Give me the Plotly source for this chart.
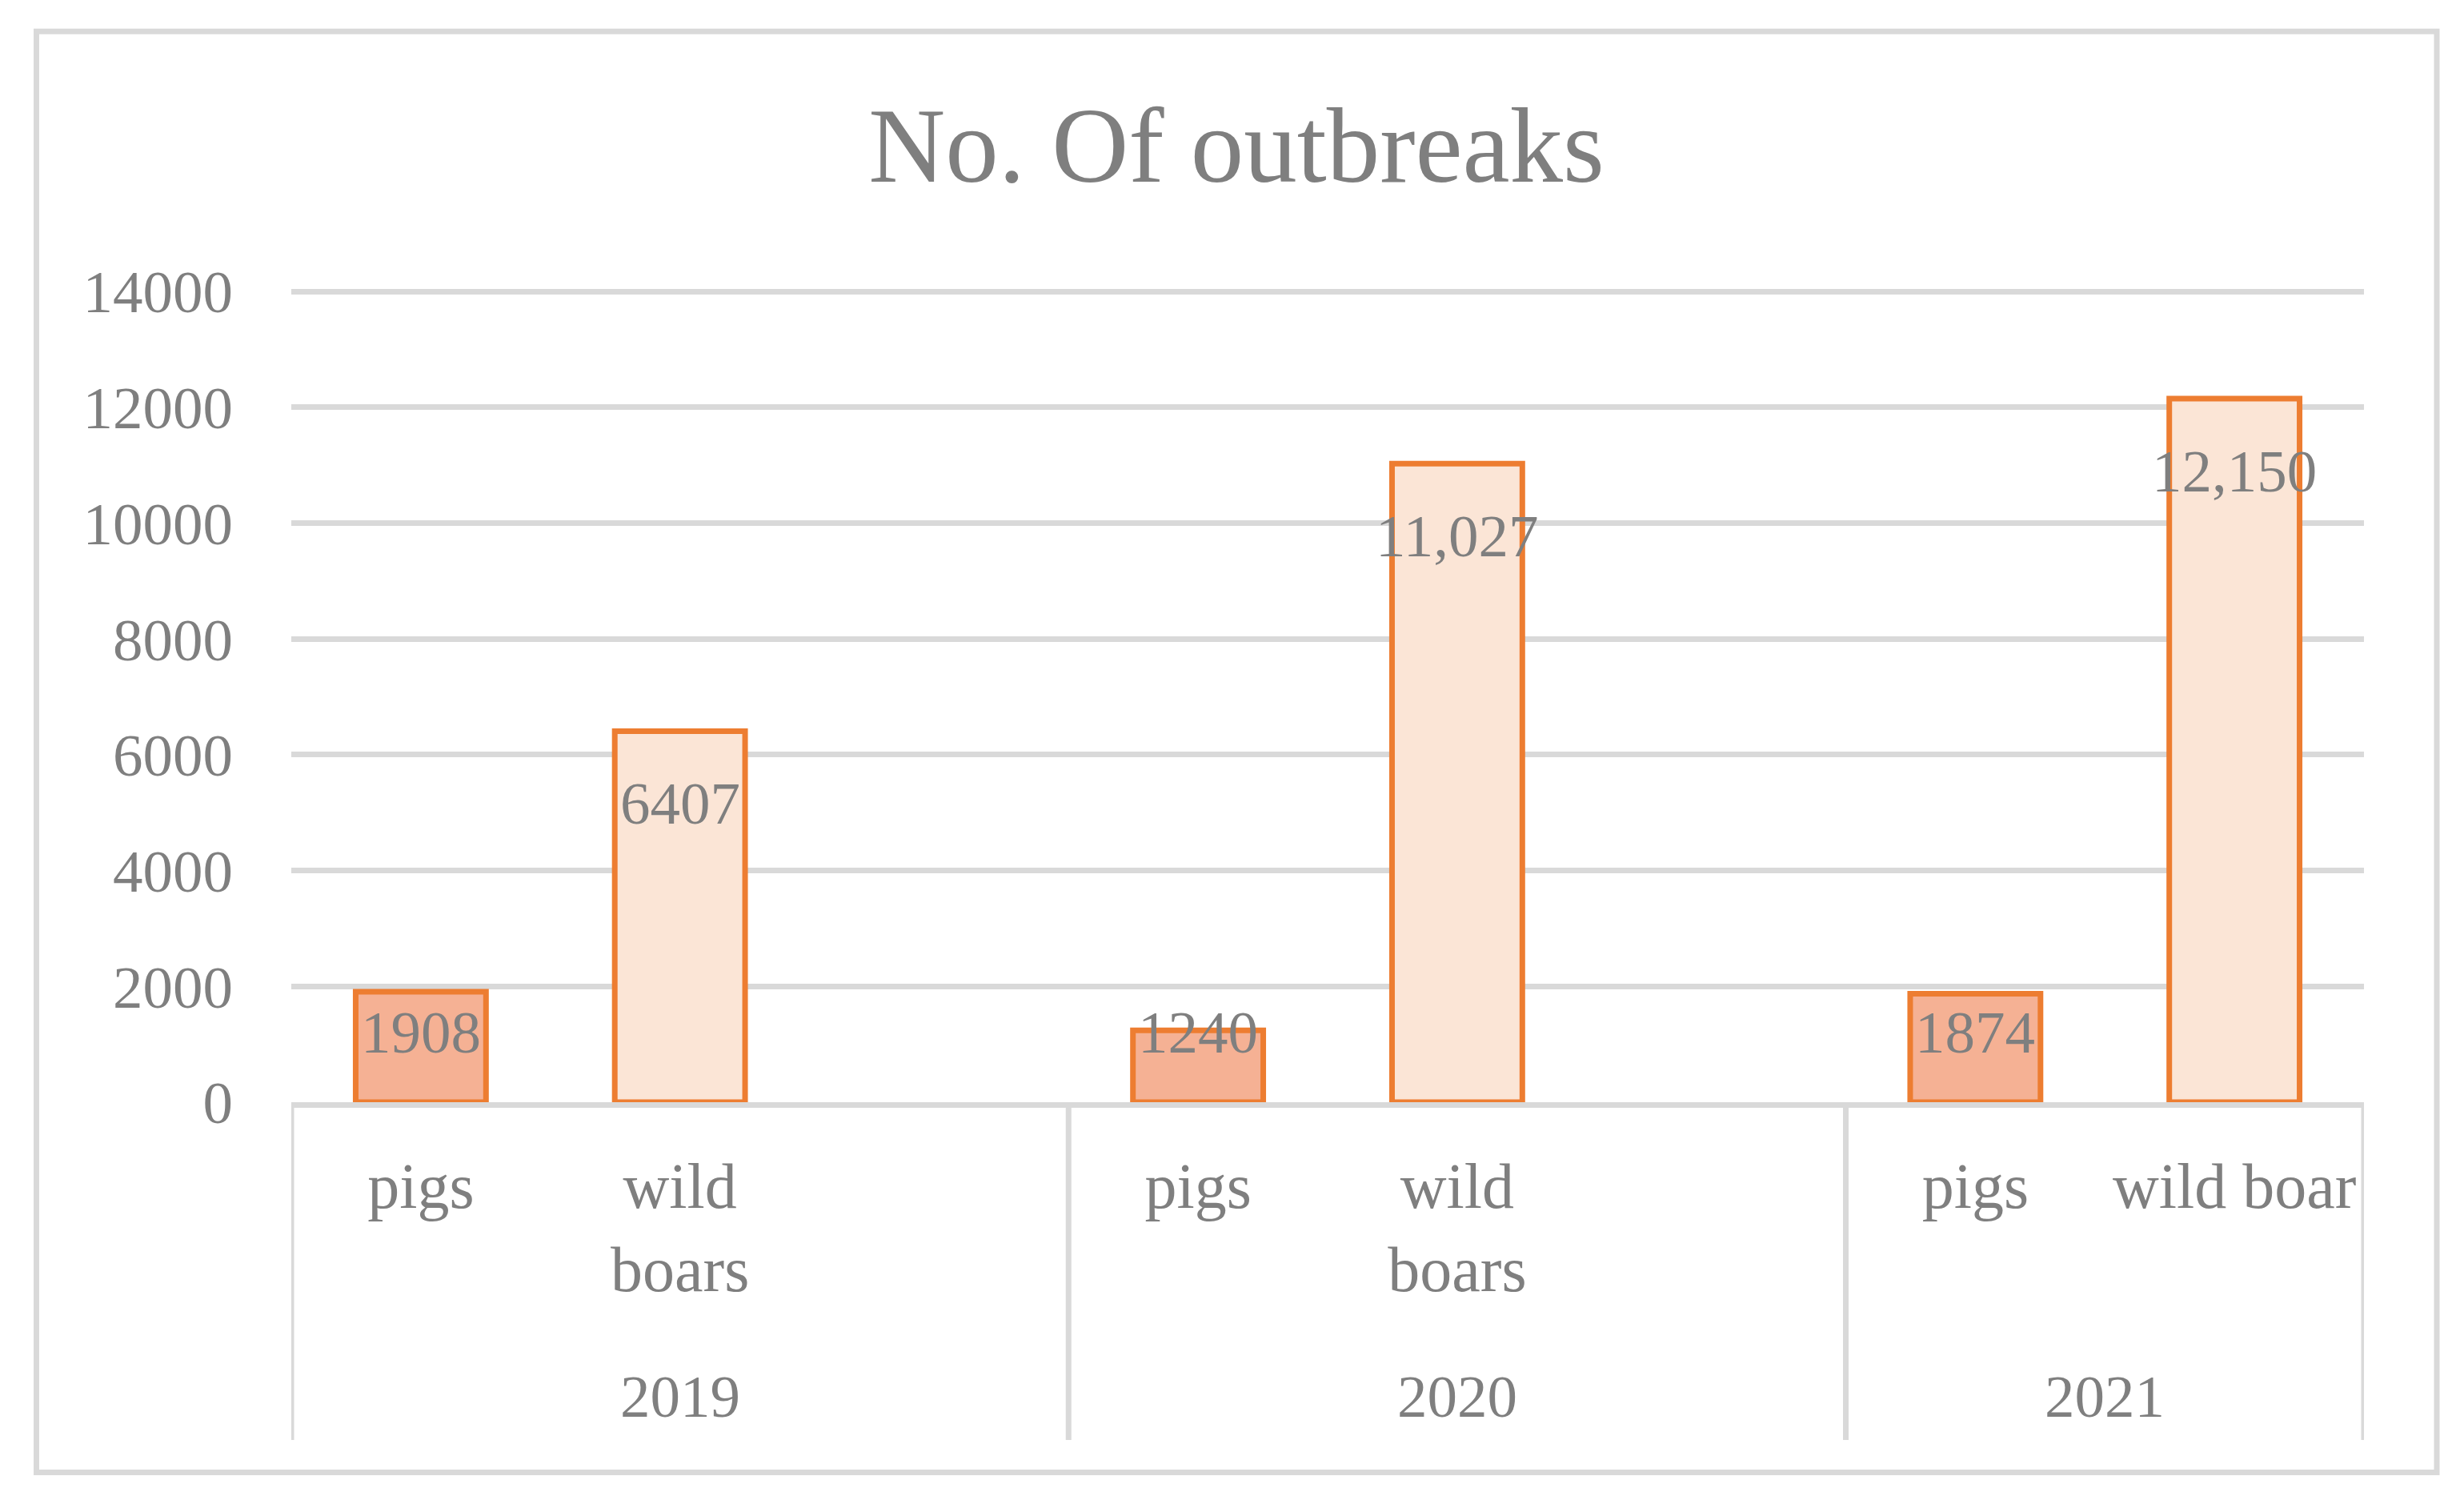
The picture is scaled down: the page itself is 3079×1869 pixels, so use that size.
import plotly.graph_objects as go

# ---------------- data ----------------
years = ["2019", "2020", "2021"]
slot_labels = [
    ["pigs", "wild<br>boars", ""],
    ["pigs", "wild<br>boars", ""],
    ["pigs", "wild boar"],
]
pigs = [1908, 1240, 1874]
wild_boars = [6407, 11027, 12150]
pigs_text = ["1908", "1240", "1874"]
wild_text = ["6407", "11,027", "12,150"]
y_ticks = [0, 2000, 4000, 6000, 8000, 10000, 12000, 14000]
y_ticktext = ["0", "2000", "4000", "6000", "8000", "10000", "12000", "14000"]

# ---------------- layout geometry ----------------
OFF = 8                 # default body margin of the page
W, H = 3079 - OFF, 1869 - OFF
L, R, B = 364 - OFF, 2954 - OFF, 1377 - OFF
T_GRID = 364.5 - OFF    # pixel of the 14000 gridline
YMAX = 14000
YTOP = 14100            # small headroom so the top gridline is drawn
pxu = (B - T_GRID) / YMAX
T = B - YTOP * pxu
FONT = "Liberation Serif"
GRAY = "#7F7F7F"
GRID = "#D9D9D9"
ORANGE = "#ED7D31"


def px_x(p):
    return (p - OFF - L) / (R - L)


def px_y(p):
    return (B - (p - OFF)) / (B - T)


# slot positions derived from group structure
starts = []
s = 0
for g in slot_labels:
    starts.append(s)
    s += len(g)
n_slots = s
pig_x = [st + 0 for st in starts]
wild_x = [st + 1 for st in starts]
tickvals = list(range(n_slots))
ticktext = [lab for g in slot_labels for lab in g]

fig = go.Figure()
fig.add_trace(go.Bar(
    x=pig_x, y=pigs, width=0.503, name="pigs",
    marker=dict(color="#F5B194", line=dict(color=ORANGE, width=7)),
))
fig.add_trace(go.Bar(
    x=wild_x, y=wild_boars, width=0.503, name="wild boars",
    marker=dict(color="#FBE5D6", line=dict(color=ORANGE, width=7)),
))

# data labels
anns = []
for xs, vals, texts in [(pig_x, pigs, pigs_text), (wild_x, wild_boars, wild_text)]:
    for x, v, t in zip(xs, vals, texts):
        top = B - v * pxu
        center = min(top + 90, B - 87)
        anns.append(dict(x=x, y=v, xref="x", yref="y", text=t, showarrow=False,
                         yanchor="middle", yshift=-(center - top),
                         font=dict(family=FONT, size=75, color=GRAY)))

# year labels
for g, st, yr in zip(slot_labels, starts, years):
    anns.append(dict(x=st + (len(g) - 1) / 2, y=px_y(1744), xref="x", yref="paper",
                     text=yr, showarrow=False, yanchor="middle",
                     font=dict(family=FONT, size=75, color=GRAY)))

# dividers of category axis
shapes = []
bounds = [st - 0.5 for st in starts] + [n_slots - 0.5]
for b in bounds:
    shapes.append(dict(type="line", xref="x", yref="paper", x0=b, x1=b,
                       y0=0, y1=px_y(1799), line=dict(color=GRID, width=7)))
# outer chart border
shapes.append(dict(type="rect", xref="paper", yref="paper",
                   x0=px_x(45.5), x1=px_x(3045), y0=px_y(39.5), y1=px_y(1839.5),
                   line=dict(color=GRID, width=7), layer="below"))

fig.update_layout(
    width=W, height=H,
    margin=dict(l=L, r=W - R, t=T, b=H - B, pad=0),
    paper_bgcolor="white", plot_bgcolor="white",
    showlegend=False, barmode="overlay",
    title=dict(text="No. Of outbreaks", x=(1545 - OFF) / W,
               xanchor="center", y=1 - (180 - OFF) / H, yanchor="middle",
               xref="container", yref="container",
               font=dict(family=FONT, size=133, color=GRAY)),
    annotations=anns, shapes=shapes,
    xaxis=dict(range=[-0.5, n_slots - 0.5], tickvals=tickvals, ticktext=ticktext,
               showgrid=False, zeroline=False, showline=True, linecolor=GRID,
               linewidth=7, ticks="", ticklabelstandoff=29,
               tickfont=dict(family=FONT, size=80, color=GRAY)),
    yaxis=dict(range=[0, YTOP], tickvals=y_ticks, ticktext=y_ticktext,
               showgrid=True, gridcolor=GRID,
               gridwidth=7, zeroline=False, showline=False, ticks="",
               ticklabelstandoff=72,
               tickfont=dict(family=FONT, size=75, color=GRAY)),
)

fig.write_html("out.html")
